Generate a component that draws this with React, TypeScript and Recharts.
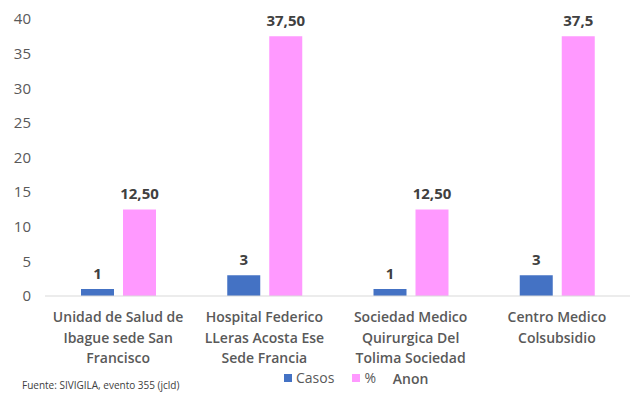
import React from "react";
import { BarChart, Bar, XAxis, YAxis, LabelList } from "recharts";

// chart values
const categories = [
  "Unidad de Salud de\nIbague sede San\nFrancisco",
  "Hospital Federico\nLLeras Acosta Ese\nSede Francia",
  "Sociedad Medico\nQuirurgica Del\nTolima Sociedad\nAnon",
  "Centro Medico\nColsubsidio",
];
const casos = [1, 3, 1, 3];
const porcentaje = [12.5, 37.5, 12.5, 37.5];
const casosLabels = ["1", "3", "1", "3"];
const porcentajeLabels = ["12,50", "37,50", "12,50", "37,5"];
const yTicks = [0, 5, 10, 15, 20, 25, 30, 35, 40];

const data = categories.map((name, i) => ({
  name,
  casos: casos[i],
  pct: porcentaje[i],
  casosLabel: casosLabels[i],
  pctLabel: porcentajeLabels[i],
}));

const FONT = "'Open Sans', sans-serif";

const CategoryTick = (props: any) => {
  const { x, y, payload } = props;
  const lines = String(payload.value).split("\n");
  return (
    <g>
      {lines.map((line: string, i: number) => (
        <text
          key={i}
          x={x}
          y={y + 18 + i * 20.7}
          textAnchor="middle"
          fill="#595959"
          fontFamily={FONT}
          fontWeight={600}
          fontSize={14}
        >
          {line}
        </text>
      ))}
    </g>
  );
};

export default function App() {
  return (
    <div style={{ position: "relative", width: 632, height: 393, background: "#fff" }}>
      <style>{`body{margin:0}`}</style>
      <BarChart
        width={632}
        height={393}
        data={data}
        margin={{ top: 19, right: 2, left: 0, bottom: 0 }}
        barCategoryGap={36}
        barGap={9}
      >
        <XAxis
          dataKey="name"
          axisLine={{ stroke: "#d9d9d9" }}
          tickLine={false}
          tick={<CategoryTick />}
          interval={0}
          height={97}
        />
        <YAxis
          domain={[0, 40]}
          ticks={yTicks}
          axisLine={false}
          tickLine={false}
          width={45}
          tick={{ fill: "#595959", fontFamily: FONT, fontSize: 15 }}
          tickMargin={8}
        />
        <Bar dataKey="casos" fill="#4472C4" isAnimationActive={false}>
          <LabelList
            dataKey="casosLabel"
            position="top"
            offset={10}
            fill="#404040"
            fontFamily={FONT}
            fontWeight={700}
            fontSize={15}
          />
        </Bar>
        <Bar dataKey="pct" fill="#FF99FF" isAnimationActive={false}>
          <LabelList
            dataKey="pctLabel"
            position="top"
            offset={10}
            fill="#404040"
            fontFamily={FONT}
            fontWeight={700}
            fontSize={15}
          />
        </Bar>
      </BarChart>
      <div
        style={{
          position: "absolute",
          left: 284,
          top: 368,
          display: "flex",
          alignItems: "center",
          fontFamily: FONT,
          fontSize: 14,
          color: "#595959",
        }}
      >
        <span style={{ width: 8, height: 8, background: "#4472C4", display: "inline-block", marginRight: 4 }} />
        <span style={{ marginRight: 18 }}>Casos</span>
        <span style={{ width: 8, height: 8, background: "#FF99FF", display: "inline-block", marginRight: 4 }} />
        <span>%</span>
      </div>
      <div
        style={{
          position: "absolute",
          left: 22,
          top: 378,
          fontFamily: FONT,
          fontSize: 10,
          color: "#404040",
        }}
      >
        Fuente: SIVIGILA, evento 355 (jcld)
      </div>
    </div>
  );
}
